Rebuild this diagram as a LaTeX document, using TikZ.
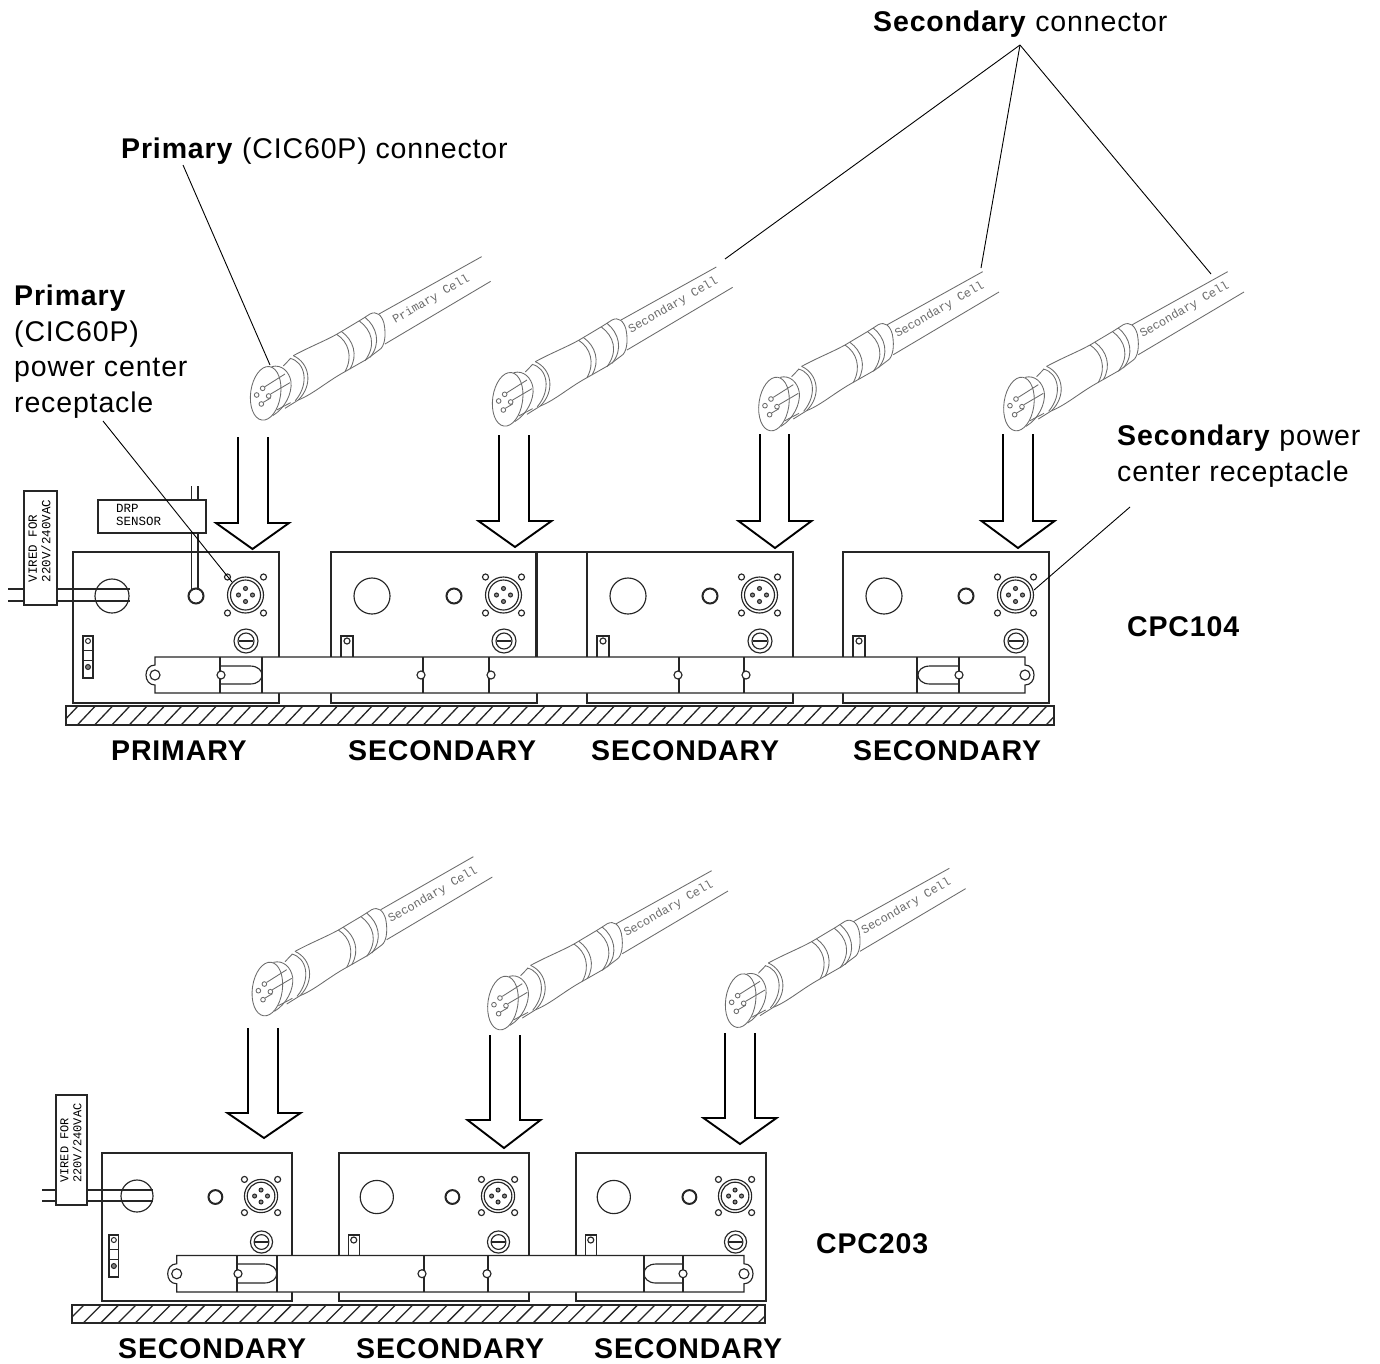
\documentclass[tikz,border=0pt]{standalone}
\usepackage{fontspec}
\setmainfont{Liberation Sans}
\newfontfamily\drawfont{Liberation Mono}
\definecolor{cablecol}{gray}{0.42}
\tikzset{
  label text/.style={font=\fontsize{28.5}{35.5}\selectfont\addfontfeature{LetterSpace=3},inner sep=0pt,text=black,align=left},
  label bold/.style={font=\fontsize{28.5}{35.5}\selectfont\addfontfeature{LetterSpace=3}\bfseries,inner sep=0pt,text=black,anchor=base west},
  leader/.style={draw=black,line width=0.9pt},
  part/.style={draw=black!85,line width=1.15pt},
  heavy/.style={draw=black!85,line width=2pt},
  arrowshape/.style={draw=black,line width=1.9pt,fill=white,line join=miter},
  cableline/.style={draw=cablecol,line width=0.85pt},
  plate text/.style={font=\drawfont\fontsize{12.5}{13.5}\selectfont,align=left,inner sep=0pt,text=black},
}
% cable connector, drawn in 3x zoom coordinates; #1,#2 = zoom origin; #3 = label; #4 = end of upper edge
\newcommand{\cableconn}[4]{%
\begin{scope}[shift={(#1,#2)},x=0.3333pt,y=-0.3333pt]
  \draw[cableline] (447,222) -- (#4);
  \draw[cableline] (465,312) -- (782,124);
  \draw[cableline,rotate around={-8:(107,460)}] (107,460) ellipse [x radius=45,y radius=81];
  \draw[cableline] (125,380) .. controls (155,372) and (178,395) .. (183,425) .. controls (187,460) and (165,505) .. (128,527);
  \draw[cableline] (160,378) -- (182,355);
  \draw[cableline] (165,505) -- (205,480);
  \draw[cableline] (80,465) circle [radius=7];
  \draw[cableline] (94,492) circle [radius=7];
  \draw[cableline] (98,445) circle [radius=7];
  \draw[cableline] (116,468) circle [radius=7];
  \draw[cableline] (105,440) -- (165,402);
  \draw[cableline] (122,462) -- (180,428);
  \draw[cableline] (100,487) -- (122,474);
  \draw[cableline] (140,510) -- (182,488);
  % boot
  \draw[cableline] (180,355) .. controls (225,365) and (240,430) .. (196,482);
  \draw[cableline] (190,347) .. controls (240,370) and (250,435) .. (205,480);
  \draw[cableline] (190,347) .. controls (240,320) and (280,305) .. (320,283) -- (392,240) -- (420,222) .. controls (440,212) and (455,225) .. (462,250) .. controls (470,290) and (462,320) .. (450,328) -- (410,358);
  \draw[cableline] (205,480) .. controls (250,462) and (290,425) .. (345,395) -- (410,358);
  \draw[cableline] (320,283) .. controls (355,305) and (370,350) .. (345,395);
  \draw[cableline] (335,275) .. controls (370,300) and (385,345) .. (360,387);
  \draw[cableline] (388,243) .. controls (425,270) and (440,315) .. (405,362);
  \draw[cableline] (405,232) .. controls (440,260) and (455,310) .. (420,352);
  \node[rotate=30,font=\drawfont\fontsize{12}{13}\selectfont,text=cablecol,inner sep=0pt] at (604,178) {#3};
\end{scope}}
\newcommand{\panelbody}[4]{%
  \draw[part] (#1,#2) rectangle ({#1+#3*206},#4);
  \draw[heavy] (#1,#4) -- ({#1+#3*206},#4);
  \draw[part] ({#1+#3*172.5},{#2+43}) circle [radius={18*#3}];
  \draw[part] ({#1+#3*172.5},{#2+43}) circle [radius={15*#3}];
  \foreach \dx/\dy in {0/-6.5,-7/0,7/0,0/6.5}
    \draw[part,line width=1pt,fill=black!45] ({#1+#3*172.5+#3*\dx},{#2+43+#3*\dy}) circle [radius=2];
  \foreach \dx/\dy in {-18/-18,18/-18,-18/18,18/18}
    \draw[part] ({#1+#3*172.5+#3*\dx},{#2+43+#3*\dy}) circle [radius=3];
  \draw[part] ({#1+#3*173},{#2+89}) circle [radius={12*#3}];
  \draw[part] ({#1+#3*173},{#2+89}) circle [radius={8*#3}];
  \draw[part,line width=1.5pt] ({#1+#3*173-7*#3},{#2+89}) -- ({#1+#3*173+7*#3},{#2+89});
  \draw[heavy] ({#1+#3*123},{#2+44}) circle [radius={7.5*#3}];
}
\newcommand{\bighole}[3]{\draw[part] ({#1+#3*41},{#2+44}) circle [radius={18*#3}];}
\newcommand{\sidetab}[3]{%
  \draw[part] ({#1+#3*10},{#2+84}) rectangle ({#1+#3*22},{#2+106});
  \draw[part] ({#1+#3*16},{#2+89}) circle [radius=3];}
\newcommand{\primarytab}[3]{%
  \draw[part,line width=1.5pt] ({#1+#3*10},{#2+84}) rectangle ({#1+#3*20},{#2+126});
  \draw[part,line width=1pt] ({#1+#3*15},{#2+89}) circle [radius=2.5];
  \draw[part,line width=1pt] ({#1+#3*10},{#2+98}) -- ({#1+#3*20},{#2+98});
  \draw[part,line width=1pt] ({#1+#3*10},{#2+108}) -- ({#1+#3*20},{#2+108});
  \draw[part,line width=1pt,fill=black!50] ({#1+#3*15},{#2+115}) circle [radius=2.5];}
\newcommand{\drawarrow}[6]{% shaft left, shaft right, top, wing y, tip x, tip y
  \draw[arrowshape] (#1,#3) -- (#1,#4) -- ({#5-36.5},#4) -- (#5,#6) -- ({#5+36.5},#4) -- (#2,#4) -- (#2,#3);}
\newcommand{\hatchbase}[4]{%
  \fill[white] (#1,#2) rectangle (#3,#4);
  \begin{scope}
    \clip (#1,#2) rectangle (#3,#4);
    \foreach \hx in {0,17.3,...,1100}
      \draw[part,line width=1.3pt] ({#1+\hx-6},#4) -- ({#1+\hx+12},#2);
  \end{scope}
  \draw[part] (#1,#2) rectangle (#3,#4);}
% mounting bar with rounded lugs: left, right, top, bottom
\newcommand{\mountbar}[4]{%
  \draw[part,fill=white] (#1,#3) -- (#2,#3) -- (#2,{(#3+#4)/2-10})
    .. controls ({#2+12},{(#3+#4)/2-10}) and ({#2+12},{(#3+#4)/2+10}) .. (#2,{(#3+#4)/2+10})
    -- (#2,#4) -- (#1,#4) -- (#1,{(#3+#4)/2+10})
    .. controls ({#1-12},{(#3+#4)/2+10}) and ({#1-12},{(#3+#4)/2-10}) .. (#1,{(#3+#4)/2-10}) -- cycle;
  \draw[part] (#1,{(#3+#4)/2}) circle [radius=5];
  \draw[part] (#2,{(#3+#4)/2}) circle [radius=5];}
% slots: square x, arc-start x, bulge x, top, bottom
\newcommand{\slotpath}[5]{%
  \draw[part] (#1,#4) -- (#2,#4) .. controls (#3,#4) and (#3,#5) .. (#2,#5) -- (#1,#5);}
\begin{document}
\begin{tikzpicture}[x=1pt,y=-1pt]
\useasboundingbox (0,0) rectangle (1380,1363);
\fill[white] (0,0) rectangle (1380,1363);
% ===== labels =====
\node[label text,anchor=base west] (seccon) at (873,31) {\textbf{Secondary} connector};
\node[label text,anchor=base west] (pricon) at (121,158) {\textbf{Primary} (CIC60P) connector};
\node[label text,anchor=north west] (prirec) at (14,285) {\textbf{Primary}\\(CIC60P)\\power center\\receptacle};
\node[label text,anchor=north west] (secrec) at (1117,425) {\textbf{Secondary} power\\center receptacle};
\node[label bold] (cpca) at (1127,636) {CPC104};
\node[label bold] (cpcb) at (816,1253) {CPC203};
\foreach \nm/\lx/\ly/\tx in {la/111/760/PRIMARY,lb/348/760/SECONDARY,lc/591/760/SECONDARY,ld/853/760/SECONDARY,le/118/1358/SECONDARY,lf/356/1358/SECONDARY,lg/594/1358/SECONDARY}
  \node[label bold] (\nm) at (\lx,\ly) {\tx};
% ===== cables =====
\cableconn{230}{240}{Primary Cell}{755,50}
\cableconn{472}{246}{Secondary Cell}{733,63}
\cableconn{738.3}{250.7}{Secondary Cell}{733,63}
\cableconn{983.3}{250.7}{Secondary Cell}{733,63}
\cableconn{231.7}{835.7}{Secondary Cell}{725,63}
\cableconn{467.3}{849.7}{Secondary Cell}{733,63}
\cableconn{705}{847.3}{Secondary Cell}{733,63}
% ===== leaders =====
\coordinate (lp1) at (270,365);
\coordinate (ls1) at (725,259);
\coordinate (ls2) at (981,268);
\coordinate (ls3) at (1211,274);
\coordinate (lr1) at (232,582);
\coordinate (lr2) at (1034,590);
\coordinate (apex) at (1020,45);
\coordinate (a1) at (183,165);
\coordinate (a2) at (103,421);
\coordinate (a3) at (1130,507);
\draw[leader] (a1) -- (lp1);
\draw[leader] (apex) -- (ls1);
\draw[leader] (apex) -- (ls2);
\draw[leader] (apex) -- (ls3);
% ===== top assembly =====
\hatchbase{66}{706}{1054}{725}
\draw[part] (536,552) -- (587,552);
\draw[part] (536,552) -- (536,660);
\panelbody{73}{552}{1}{703}
\panelbody{331}{552}{1}{703}
\panelbody{587}{552}{1}{703}
\panelbody{843}{552}{1}{703}
\draw[part] (112,596) circle [radius=17];
\bighole{331}{552}{1}\bighole{587}{552}{1}\bighole{843}{552}{1}
\sidetab{331}{552}{1}\sidetab{587}{552}{1}\sidetab{843}{552}{1}
\primarytab{73}{552}{1}
\draw[part] (8,589) -- (130,589);
\draw[part] (8,601) -- (130,601);
\draw[part,fill=white] (24,491) rectangle (57,605);
\node[rotate=90,plate text] (vira) at (39.5,541) {VIRED FOR\\220V/240VAC};
\draw[part] (191.5,486) -- (191.5,590);
\draw[part] (198,486) -- (198,590);
\draw[part,fill=white] (98,500) rectangle (206,533);
\node[plate text,anchor=west] (orp) at (116,515) {DRP\\SENSOR};
\mountbar{155}{1025}{657}{693}
\foreach \vx in {220,262,423,489,679,744,917,959} \draw[part] (\vx,657) -- (\vx,693);
\slotpath{221}{250}{266}{666}{684}
\slotpath{959}{930}{914}{666}{684}
\foreach \vx in {221,421,491,678,746,959} \draw[part,fill=white] (\vx,675) circle [radius=4];
\drawarrow{238}{268}{437}{523}{252.5}{549}
\drawarrow{499}{529}{435}{521}{515}{547}
\drawarrow{760}{789}{434}{521}{775}{548}
\drawarrow{1003}{1033}{434}{521}{1018}{548}
\draw[leader] (a2) -- (lr1);
\draw[leader] (a3) -- (lr2);
% ===== bottom assembly =====
\hatchbase{72}{1305}{765}{1323}
\panelbody{102}{1153}{0.922}{1301}
\panelbody{339}{1153}{0.922}{1301}
\panelbody{576}{1153}{0.922}{1301}
\draw[part] (137,1196) circle [radius=16];
\bighole{339}{1153}{0.922}\bighole{576}{1153}{0.922}
\sidetab{339}{1151}{0.922}\sidetab{576}{1151}{0.922}
\primarytab{100}{1151}{0.922}
\draw[part] (42,1190) -- (153,1190);
\draw[part] (42,1201) -- (153,1201);
\draw[part,fill=white] (56,1095) rectangle (87,1205);
\node[rotate=90,plate text,font=\drawfont\fontsize{12}{13}\selectfont] (virb) at (71,1143) {VIRED FOR\\220V/240VAC};
\mountbar{176.7}{744}{1255.5}{1292}
\foreach \vx in {237,277,424,488,644,683} \draw[part] (\vx,1255.5) -- (\vx,1292);
\slotpath{237}{264}{281}{1264}{1283}
\slotpath{683}{656}{640}{1264}{1283}
\foreach \vx in {238,422,487,683} \draw[part,fill=white] (\vx,1273.7) circle [radius=4];
\drawarrow{248}{278}{1028}{1113}{264}{1138}
\drawarrow{490}{520}{1035}{1120}{504}{1148}
\drawarrow{725}{755}{1033}{1118}{740}{1144}
\end{tikzpicture}
\end{document}
